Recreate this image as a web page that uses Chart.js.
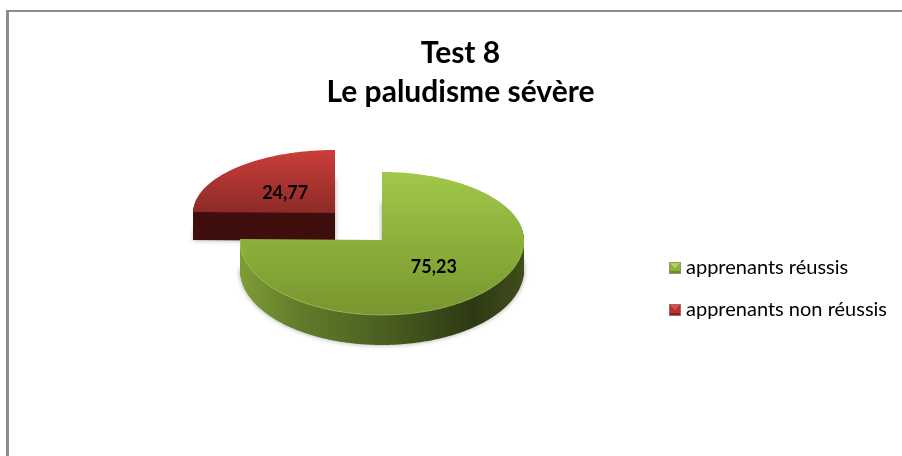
<!DOCTYPE html>
<html>
<head>
<meta charset="utf-8">
<script src="https://cdn.jsdelivr.net/npm/chart.js@4"></script>
<style>
    body { margin: 0; background: #fff; }
    #frame { position: absolute; left: 6px; top: 10px; right: 0; bottom: 0; border-left: 3px solid #8c8c8c; border-top: 2px solid #8c8c8c; }
    canvas { position: absolute; left: 0; top: 0; }
</style>
</head>
<body>
<div id="frame"></div>
<canvas id="pie" width="902" height="456"></canvas>
<script>
// --- Data ---
const categories = ['apprenants réussis', 'apprenants non réussis'];
const values = [75.23, 24.77];
const valueLabels = ['75,23', '24,77'];
const titleLines = ['Test 8', 'Le paludisme sévère'];

// --- 3D look, per slice ---
const anchors = [{ x: 382, y: 240 }, { x: 335, y: 213 }]; // apex of each slice, red one is pulled out
const squashUp = [0.479, 0.444];   // back half of the ellipse
const squashDown = [0.528, 0.528]; // front half, a bit larger for the perspective
const depths = [30, 28];
const labelShift = [{ x: 2, y: 0 }, { x: 0, y: 3 }];
const topColors = [['#a0c848', '#77962f'], ['#cb3e3a', '#8c2a27']];
const flatColors = ['#8db13c', '#b5322f'];

const FONT = 'Lato, "Open Sans", sans-serif';

function slicePath(ctx, arc, i, dy) {
    const { x, y } = anchors[i];
    const r = arc.outerRadius;
    ctx.beginPath();
    ctx.moveTo(x, y + dy);
    for (let a = arc.startAngle; ; a += 0.01) {
        const t = Math.min(a, arc.endAngle);
        const s = Math.sin(t);
        ctx.lineTo(x + r * Math.cos(t), y + dy + r * s * (s < 0 ? squashUp[i] : squashDown[i]));
        if (t === arc.endAngle) break;
    }
    ctx.closePath();
}

function sideFill(ctx, arc, i) {
    if (i === 1) return '#3f0f0e';
    const r = arc.outerRadius;
    const g = ctx.createLinearGradient(anchors[i].x - r, 0, anchors[i].x + r, 0);
    g.addColorStop(0, '#7e9d37');
    g.addColorStop(0.2, '#627d2b');
    g.addColorStop(0.55, '#465a1f');
    g.addColorStop(0.82, '#2d3913');
    g.addColorStop(1, '#3f4e1c');
    return g;
}

function topFill(ctx, arc, i) {
    const r = arc.outerRadius;
    const g = ctx.createLinearGradient(0, anchors[i].y - r * squashUp[i], 0, anchors[i].y + (i === 0 ? r * squashDown[i] : 0));
    g.addColorStop(0, topColors[i][0]);
    g.addColorStop(1, topColors[i][1]);
    return g;
}

// draws the slices as a squashed prism from the arcs the controller laid out
const prismPlugin = {
    id: 'prism',
    beforeDatasetsDraw(chart) {
        const ctx = chart.ctx;
        const arcs = chart.getDatasetMeta(0).data;
        ctx.save();
        [1, 0].forEach(i => {
            const arc = arcs[i];
            // soft shadow under the body
            ctx.save();
            ctx.shadowColor = 'rgba(0,0,0,0.35)';
            ctx.shadowBlur = 5;
            ctx.fillStyle = sideFill(ctx, arc, i);
            slicePath(ctx, arc, i, depths[i]);
            ctx.fill();
            ctx.restore();

            ctx.fillStyle = sideFill(ctx, arc, i);
            for (let d = depths[i] - 1; d > 0; d--) {
                slicePath(ctx, arc, i, d);
                ctx.fill();
            }
            ctx.fillStyle = topFill(ctx, arc, i);
            slicePath(ctx, arc, i, 0);
            ctx.fill();
        });

        // thin light rim on the front of the green slice
        const g = arcs[0];
        ctx.beginPath();
        for (let a = 0; a <= Math.PI; a += 0.01) {
            ctx.lineTo(anchors[0].x + g.outerRadius * Math.cos(a), anchors[0].y + g.outerRadius * Math.sin(a) * squashDown[0]);
        }
        ctx.strokeStyle = 'rgba(190,220,110,0.55)';
        ctx.lineWidth = 1;
        ctx.stroke();

        ctx.fillStyle = '#000';
        ctx.font = 'bold 18px ' + FONT;
        ctx.textAlign = 'center';
        ctx.textBaseline = 'middle';
        arcs.forEach((arc, i) => {
            const mid = (arc.startAngle + arc.endAngle) / 2;
            const rr = arc.outerRadius / 2;
            const s = Math.sin(mid);
            ctx.fillText(valueLabels[i],
                anchors[i].x + rr * Math.cos(mid) + labelShift[i].x,
                anchors[i].y + rr * s * (s < 0 ? squashUp[i] : squashDown[i]) + labelShift[i].y);
        });
        ctx.restore();
        return false;
    }
};

// small bevelled legend squares
function makeMarker(edge, light, mid, dark) {
    const c = document.createElement('canvas');
    c.width = 12;
    c.height = 12;
    const m = c.getContext('2d');
    m.fillStyle = edge;
    m.fillRect(0, 0, 12, 12);
    m.fillStyle = mid;
    m.fillRect(1, 1, 10, 10);
    m.fillStyle = light;
    m.beginPath(); m.moveTo(1, 1); m.lineTo(11, 1); m.lineTo(6, 6); m.closePath(); m.fill();
    m.fillStyle = dark;
    m.fillRect(1, 9, 10, 2);
    return c;
}
const markers = [makeMarker('#8a9a6a', '#b4d45e', '#8db13c', '#6a8a2a'), makeMarker('#a06a68', '#d9504c', '#b5322f', '#80211f')];

new Chart(document.getElementById('pie'), {
    type: 'pie',
    data: {
        labels: categories,
        datasets: [{ data: values, backgroundColor: flatColors, borderWidth: 0 }]
    },
    plugins: [prismPlugin],
    options: {
        responsive: false,
        animation: false,
        layout: { padding: { left: 24, right: 5, top: 0, bottom: 25 } },
        plugins: {
            tooltip: { enabled: false },
            title: {
                display: true,
                text: titleLines,
                color: '#000',
                font: { family: FONT, size: 30, weight: 'bold', lineHeight: 1.3 },
                padding: { top: 34, bottom: 35 }
            },
            legend: {
                position: 'right',
                fullSize: false,
                labels: {
                    usePointStyle: true,
                    boxWidth: 2,
                    boxHeight: 12,
                    padding: 22,
                    color: '#000',
                    font: { family: FONT, size: 20 },
                    generateLabels(chart) {
                        const items = Chart.overrides.doughnut.plugins.legend.labels.generateLabels(chart);
                        items.forEach((item, i) => { item.pointStyle = markers[i]; });
                        return items;
                    }
                }
            }
        }
    }
});
</script>
</body>
</html>
